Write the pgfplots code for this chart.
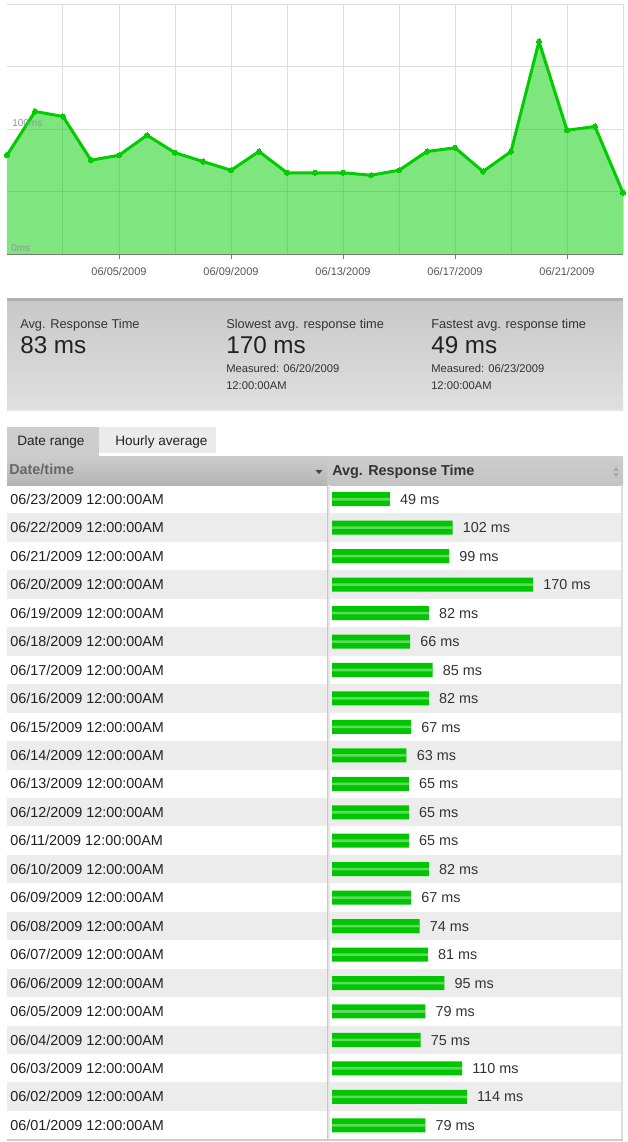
\documentclass[border=0pt]{standalone}
\usepackage{fontspec}
\setmainfont{Liberation Sans}
\usepackage{pgfplots}
\pgfplotsset{compat=1.18}
\usepackage{pgfplotstable}

\definecolor{lineg}{HTML}{00CC00}
\definecolor{barg}{HTML}{00C600}
\definecolor{barstripe}{HTML}{5FD95F}
\definecolor{gridc}{HTML}{DDDDDD}
\definecolor{axisc}{HTML}{777777}
\definecolor{tickc}{HTML}{555555}
\definecolor{labc}{HTML}{959595}
\definecolor{rowgray}{HTML}{ECECEC}
\definecolor{panelTop}{HTML}{C8C8C8}
\definecolor{panelBot}{HTML}{DFDFDF}
\definecolor{panelBorder}{HTML}{B0B0B0}
\definecolor{panelEdge}{HTML}{E4E4E4}
\definecolor{hdrTop}{HTML}{CDCDCD}
\definecolor{hdrBot}{HTML}{C4C4C4}
\definecolor{hdrLBot}{HTML}{B4B4B4}
\definecolor{tabTwo}{HTML}{EBEBEB}
\definecolor{divc}{HTML}{C8C8C8}
\definecolor{divl}{HTML}{E6E6E6}
\definecolor{edgec}{HTML}{DDDDDD}
\definecolor{bordc}{HTML}{CCCCCC}
\definecolor{arrowd}{HTML}{444444}
\definecolor{arrowl}{HTML}{AAAAAA}
\definecolor{txt}{HTML}{222222}
\definecolor{txtb}{HTML}{333333}
\definecolor{hdrgray}{HTML}{666666}

\pgfplotstableread[col sep=comma]{
day,ms,label
1,79,06/01/2009 12:00:00AM
2,114,06/02/2009 12:00:00AM
3,110,06/03/2009 12:00:00AM
4,75,06/04/2009 12:00:00AM
5,79,06/05/2009 12:00:00AM
6,95,06/06/2009 12:00:00AM
7,81,06/07/2009 12:00:00AM
8,74,06/08/2009 12:00:00AM
9,67,06/09/2009 12:00:00AM
10,82,06/10/2009 12:00:00AM
11,65,06/11/2009 12:00:00AM
12,65,06/12/2009 12:00:00AM
13,65,06/13/2009 12:00:00AM
14,63,06/14/2009 12:00:00AM
15,67,06/15/2009 12:00:00AM
16,82,06/16/2009 12:00:00AM
17,85,06/17/2009 12:00:00AM
18,66,06/18/2009 12:00:00AM
19,82,06/19/2009 12:00:00AM
20,170,06/20/2009 12:00:00AM
21,99,06/21/2009 12:00:00AM
22,102,06/22/2009 12:00:00AM
23,49,06/23/2009 12:00:00AM
}\data

\newcommand\fs[1]{\fontsize{#1}{#1}\selectfont}

\begin{document}
\begin{tikzpicture}
\begin{scope}[x=0.75pt,y=-0.75pt]
\useasboundingbox (0,0) rectangle (628,1142);
\fill[white] (0,0) rectangle (628,1142);
% summary panel
\shade[top color=panelTop, bottom color=panelBot] (7,299) rectangle (623,410);
\fill[panelBorder] (7,298) rectangle (623,300.5);
\fill[panelEdge] (7,408.5) rectangle (623,410.5);
\node[anchor=base west, inner sep=0pt, text=txtb, font=\fs{9.6}] at (20,328) {Avg. Response Time};
\node[anchor=base west, inner sep=0pt, text=txt, font=\fs{18.2}] at (20,353) {83 ms};
\node[anchor=base west, inner sep=0pt, text=txtb, font=\fs{9.6}] at (226,328) {Slowest avg. response time};
\node[anchor=base west, inner sep=0pt, text=txt, font=\fs{18.2}] at (226,353) {170 ms};
\node[anchor=base west, inner sep=0pt, text=txtb, font=\fs{8.4}] at (226,372) {Measured: 06/20/2009};
\node[anchor=base west, inner sep=0pt, text=txtb, font=\fs{8.4}] at (226,389) {12:00:00AM};
\node[anchor=base west, inner sep=0pt, text=txtb, font=\fs{9.6}] at (431,328) {Fastest avg. response time};
\node[anchor=base west, inner sep=0pt, text=txt, font=\fs{18.2}] at (431,353) {49 ms};
\node[anchor=base west, inner sep=0pt, text=txtb, font=\fs{8.4}] at (431,372) {Measured: 06/23/2009};
\node[anchor=base west, inner sep=0pt, text=txtb, font=\fs{8.4}] at (431,389) {12:00:00AM};
% tabs
\fill[hdrTop] (7,427) rectangle (99,457);
\fill[tabTwo] (99,427) rectangle (216,453);
\node[anchor=base west, inner sep=0pt, text=txt, font=\fs{10.2}] at (17,445) {Date range};
\node[anchor=base west, inner sep=0pt, text=txt, font=\fs{10.2}] at (115,445) {Hourly average};
% header
\shade[top color=hdrTop, bottom color=hdrBot] (327,456) rectangle (623,485);
\shade[top color=hdrTop, middle color=hdrTop, bottom color=hdrLBot] (7,456) rectangle (327,485);
\node[anchor=base west, inner sep=0pt, text=hdrgray, font=\fs{10.8}\bfseries] at (9,474) {Date/time};
\node[anchor=base west, inner sep=0pt, text=txtb, font=\fs{10.8}\bfseries] at (332,475) {Avg. Response Time};
\fill[arrowd] (315.5,470) -- (322.5,470) -- (319,474) -- cycle;
\fill[arrowl] (613,471) -- (619,471) -- (616,467) -- cycle;
\fill[arrowl] (613,473) -- (619,473) -- (616,477) -- cycle;
% rows
\foreach \i in {1,3,...,21} {
  \fill[rowgray] (7,485+\i*28.45) rectangle (623,485+\i*28.45+28.45);
}
\draw[divc, line width=0.75pt] (327,485) -- (327,1139.5);
\draw[divl, line width=1.5pt] (329,485) -- (329,1139.5);
\draw[edgec, line width=1.5pt] (622,485) -- (622,1139.5);
\draw[bordc, line width=1pt] (7,1140) -- (623,1140);
\coordinate (areaSW) at (7,254);
\coordinate (barNW) at (332,485);
\end{scope}

\begin{pgfinterruptboundingbox}
% area chart
\begin{axis}[at={(areaSW)}, anchor=south west, scale only axis,
  width=462pt, height=187.5pt,
  xmin=1, xmax=23, ymin=0, ymax=200,
  axis x line*=bottom, axis y line*=left,
  axis line style={-},
  x axis line style={draw=axisc, line width=0.75pt},
  y axis line style={draw=none},
  xtick={5,9,13,17,21},
  xticklabels={06/05/2009,06/09/2009,06/13/2009,06/17/2009,06/21/2009},
  minor xtick={3,7,11,15,19,23},
  ytick={0,50,100,150,200}, yticklabels={},
  xmajorgrids, xminorgrids, ymajorgrids,
  major grid style={gridc, line width=0.75pt},
  minor grid style={gridc, line width=0.75pt},
  tick align=outside,
  major tick length=3.75pt, minor tick length=0pt,
  xtick style={draw=axisc, line width=0.75pt},
  ytick style={draw=none},
  xticklabel style={font=\fs{8.25}, text=tickc, anchor=north, inner sep=0pt,
    text height=5.9pt, text depth=0pt, yshift=-6.4pt},
  clip=false,
]
\addplot[draw=none, fill=lineg, fill opacity=0.5] table[x=day,y=ms]{\data} \closedcycle;
\begin{scope}
\clip (rel axis cs:0,0) rectangle (rel axis cs:1,1);
\addplot[lineg, line width=2.25pt, line join=round, mark=*, mark size=1.9pt,
  mark options={fill=lineg, draw=lineg, line width=0pt}] table[x=day,y=ms]{\data};
\end{scope}
\node[anchor=base west, inner sep=0pt, text=labc, font=\fs{7.5}, xshift=3.75pt, yshift=2.25pt] at (axis cs:1,100) {100ms};
\node[anchor=base west, inner sep=0pt, text=labc, font=\fs{7.5}, xshift=3pt, yshift=2.25pt] at (axis cs:1,0) {0ms};
\end{axis}

% bar table
\begin{axis}[at={(barNW)}, anchor=north west, scale only axis,
  width=218.25pt, height=490.9pt,
  xmin=0, xmax=246.1, ymin=0.5, ymax=23.5,
  axis line style={draw=none}, tick style={draw=none},
  xtick=\empty, ytick={1,...,23},
  yticklabels from table={\data}{label},
  yticklabel style={anchor=west, inner sep=0pt, xshift=-241.5pt,
    font=\fs{10.8}, text=txt, text height=7.7pt, text depth=0pt},
  /pgf/number format/assume math mode=true,
  clip=false]
\addplot[xbar, bar width=10.5pt, bar shift=0pt, fill=barg, draw=none,
  point meta=x,
  nodes near coords={\pgfmathprintnumber{\pgfplotspointmeta}~ms},
  every node near coord/.append style={anchor=west, inner sep=0pt, xshift=7.5pt,
    font=\fs{10.8}, text=txtb, text height=7.7pt, text depth=0pt}]
  table[x=ms,y=day]{\data};
\addplot[xbar, bar width=1.9pt, bar shift=0pt, fill=barstripe, draw=none]
  table[x=ms,y=day]{\data};
\end{axis}
\end{pgfinterruptboundingbox}
\end{tikzpicture}
\end{document}
